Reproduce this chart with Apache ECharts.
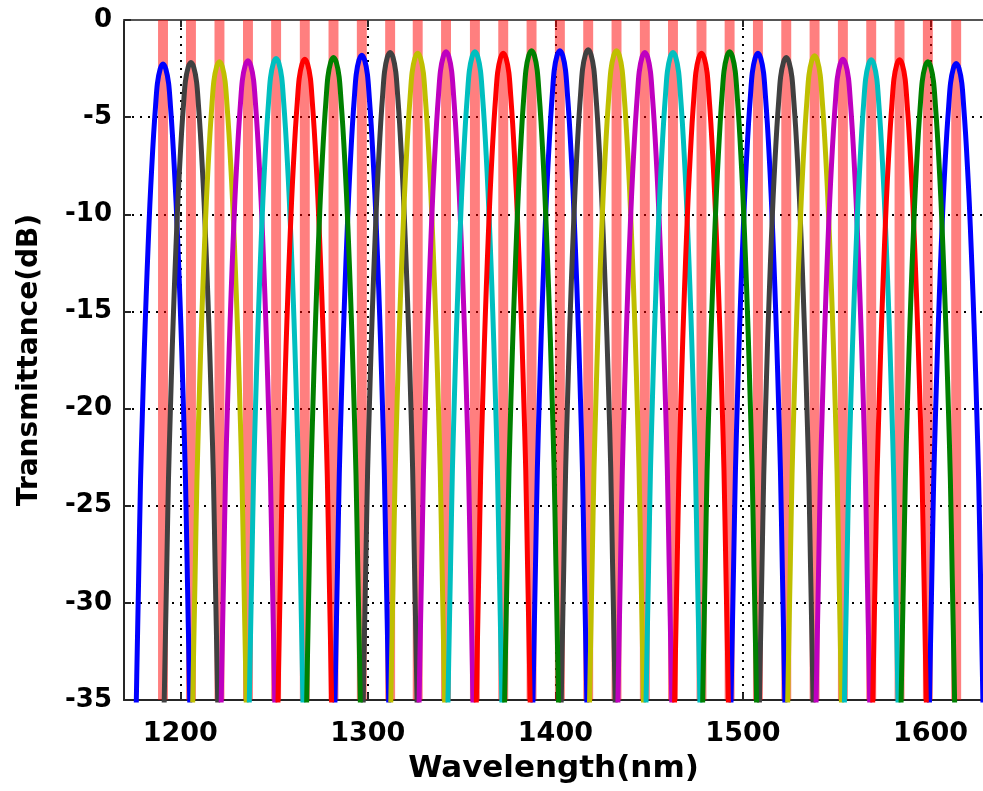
<!DOCTYPE html>
<html><head><meta charset="utf-8">
<script src="https://cdn.jsdelivr.net/npm/echarts@6/dist/echarts.min.js"></script>
<style>html,body{margin:0;padding:0;background:#fff}#c{width:983px;height:791px}</style>
</head><body><div id="c"></div>
<script>
// ---- data ----
const xTickValues = [1200, 1300, 1400, 1500, 1600];
const yTickValues = [0, -5, -10, -15, -20, -25, -30, -35];
const channelNames = ['Ch1', 'Ch2', 'Ch3', 'Ch4', 'Ch5', 'Ch6', 'Ch7'];
// peak centre wavelengths (nm), left to right
const peakCentersNm = [1190.8, 1205.7, 1220.9, 1236.1, 1251.1, 1266.4, 1281.7, 1296.8, 1311.9, 1326.6,
  1341.7, 1357.1, 1372.2, 1387.3, 1402.4, 1417.5, 1432.6, 1447.7, 1462.7, 1477.9,
  1492.9, 1508.0, 1523.1, 1538.2, 1553.3, 1568.4, 1583.5, 1598.6, 1613.7];
// peak transmittance (dB)
const peakLevelsDb = [-2.27, -2.19, -2.15, -2.10, -1.98, -2.02, -1.93, -1.81, -1.67, -1.71,
  -1.64, -1.64, -1.71, -1.58, -1.58, -1.53, -1.58, -1.67, -1.67, -1.71,
  -1.64, -1.71, -1.93, -1.84, -2.02, -2.05, -2.05, -2.15, -2.24];
// channel (series) owning each peak
const peakChannel = [0, 1, 2, 3, 4, 5, 6, 0, 1, 2, 3, 4, 5, 6, 0, 1, 2, 3, 4, 5, 6, 0, 1, 2, 3, 4, 5, 6, 0];
// passband profile: offset from peak (nm) and drop below peak (dB)
const profileOffsetNm = [0, 1.5, 3, 4, 5, 6, 7, 8, 9, 10, 11, 12, 13, 14, 15, 16];
const profileDropDb = [0, 0.25, 1.0, 2.2, 3.6, 5.3, 7.2, 9.5, 12.0, 14.8, 18.0, 21.5, 26.5, 31.5, 37.0, 43.0];
// channel passband markers width (nm)
const bandWidthNm = 5.3;

// ---- styles ----
const channelColors = ['#0000FF', '#404040', '#BFBF00', '#BF00BF', '#00BFBF', '#FF0000', '#008000'];
const FONT = 'DejaVu Sans';

function channelData(ch) {
  const out = [];
  peakCentersNm.forEach((c, i) => {
    if (peakChannel[i] !== ch) return;
    for (let k = profileOffsetNm.length - 1; k > 0; k--) out.push([c - profileOffsetNm[k], peakLevelsDb[i] - profileDropDb[k]]);
    for (let k = 0; k < profileOffsetNm.length; k++) out.push([c + profileOffsetNm[k], peakLevelsDb[i] - profileDropDb[k]]);
    out.push([c + 17, '-']);
  });
  return out;
}

const series = [{
  type: 'custom',
  name: 'bands',
  z: 1,
  clip: true,
  silent: true,
  data: peakCentersNm.map(c => [c - bandWidthNm / 2, c + bandWidthNm / 2]),
  renderItem: function (params, api) {
    const p1 = api.coord([api.value(0), 0]);
    const p2 = api.coord([api.value(1), -35]);
    return { type: 'rect', shape: { x: p1[0], y: p1[1], width: p2[0] - p1[0], height: p2[1] - p1[1] },
      style: { fill: 'rgba(255,0,0,0.5)' } };
  }
}];
channelNames.forEach((n, ch) => {
  series.push({
    type: 'line', name: n, z: 3, showSymbol: false, symbol: 'none', smooth: 0.3, clip: true,
    connectNulls: false,
    lineStyle: { color: channelColors[ch], width: 5, join: 'round' },
    data: channelData(ch)
  });
});

const chart = echarts.init(document.getElementById('c'), null, { renderer: 'canvas' });
chart.setOption({
  animation: false,
  backgroundColor: '#fff',
  grid: { left: 124, top: 20, right: 0, bottom: 91, containLabel: false },
  xAxis: [{
    type: 'value', position: 'bottom', min: 1170, max: 1628,
    name: 'Wavelength(nm)', nameLocation: 'middle', nameGap: 53,
    nameTextStyle: { fontFamily: FONT, fontWeight: 'bold', fontSize: 31, color: '#000' },
    axisLine: { show: true, onZero: false, lineStyle: { color: '#262626', width: 2 } },
    axisTick: { show: true, inside: true, length: 7, customValues: xTickValues, lineStyle: { color: '#262626', width: 2 } },
    axisLabel: { customValues: xTickValues, formatter: v => String(v), fontFamily: FONT, fontWeight: 'bold', fontSize: 27, color: '#000', margin: 20 },
    splitLine: { show: true, lineStyle: { color: '#000', width: 2, type: [2, 6] } }
  }, {
    type: 'value', position: 'top', min: 1170, max: 1628,
    axisLine: { show: true, onZero: false, lineStyle: { color: '#555', width: 2 } },
    axisTick: { show: true, inside: true, length: 7, customValues: xTickValues, lineStyle: { color: '#262626', width: 2 } },
    axisLabel: { show: false },
    splitLine: { show: false }
  }],
  yAxis: {
    type: 'value', min: -35, max: 0, interval: 5,
    name: 'Transmittance(dB)', nameLocation: 'middle', nameGap: 80, nameRotate: 90,
    nameTextStyle: { fontFamily: FONT, fontWeight: 'bold', fontSize: 28, color: '#000' },
    axisLine: { show: true, onZero: false, lineStyle: { color: '#262626', width: 2 } },
    axisTick: { show: true, inside: true, length: 7, lineStyle: { color: '#262626', width: 2 } },
    axisLabel: { fontFamily: FONT, fontWeight: 'bold', fontSize: 26, color: '#000', margin: 12 },
    splitLine: { show: true, lineStyle: { color: '#000', width: 2, type: [2, 6] } }
  },
  series: series
});
</script></body></html>
